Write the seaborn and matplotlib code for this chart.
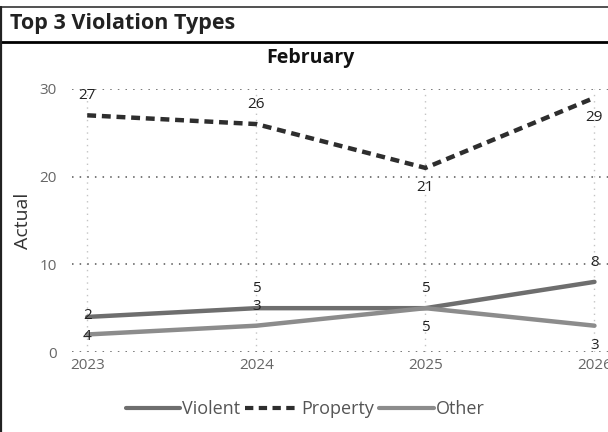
import matplotlib
matplotlib.use("Agg")
import matplotlib.pyplot as plt
import seaborn as sns
import pandas as pd
from matplotlib.lines import Line2D

# Data
years = [2023, 2024, 2025, 2026]
violent = [4, 5, 5, 8]
property_ = [27, 26, 21, 29]
other = [2, 3, 5, 3]

# label placement: +1 above the point, -1 below (as in the reference)
violent_pos = [-1, 1, 1, 1]
property_pos = [1, 1, -1, -1]
other_pos = [1, 1, -1, -1]

series_names = ["Violent", "Property", "Other"]
series_colors = {"Violent": "#6e6e6e", "Property": "#2e2e2e", "Other": "#8c8c8c"}

sns.set_style("white")
plt.rcParams["font.family"] = ["Open Sans", "DejaVu Sans"]

df = pd.DataFrame({
    "Year": years * 3,
    "Actual": violent + property_ + other,
    "Series": ["Violent"] * 4 + ["Property"] * 4 + ["Other"] * 4,
})

fig = plt.figure(figsize=(6.08, 4.32), dpi=100)
W, H = 608, 432
ax = fig.add_axes([72 / W, 1 - 352 / H, (W - 72) / W, (352 - 89) / H])

sns.lineplot(data=df, x="Year", y="Actual", hue="Series", style="Series",
             palette=series_colors,
             dashes={"Violent": "", "Property": (2.0, 1.3), "Other": ""},
             linewidth=3.2, ax=ax, legend=False)

ax.set_xlim(2022.91, 2026.08)
ax.set_ylim(0, 30)
ax.set_xticks(years)
ax.set_xticklabels([str(y) for y in years])
ax.set_yticks([0, 10, 20, 30])
ax.tick_params(axis="x", length=0, pad=4, labelsize=11, labelcolor="#666666")
ax.tick_params(axis="y", length=0, pad=11, labelsize=11, labelcolor="#666666")
ax.set_xlabel("")
ax.set_ylabel("Actual", fontsize=14, color="#333333", labelpad=5)
for s in ax.spines.values():
    s.set_visible(False)

ax.yaxis.grid(True, linestyle=(0, (1, 4)), color="#555555", linewidth=1.1)
ax.xaxis.grid(True, linestyle=(0, (1, 3.5)), color="#c4c4c4", linewidth=1.0)
ax.set_axisbelow(True)

for vals, pos in [(violent, violent_pos), (property_, property_pos), (other, other_pos)]:
    for x, v, p in zip(years, vals, pos):
        ax.annotate(str(v), (x, v), xytext=(0, 14 * p), textcoords="offset points",
                    ha="center", va="center", fontsize=11, color="#222222",
                    annotation_clip=False)

# legend
handles = [
    Line2D([], [], color=series_colors["Violent"], lw=3),
    Line2D([], [], color=series_colors["Property"], lw=3, dashes=(2.0, 1.3)),
    Line2D([], [], color=series_colors["Other"], lw=3),
]
fig.legend(handles, series_names, loc="center", bbox_to_anchor=(305 / W, 1 - 409 / H),
           ncol=3, frameon=False, fontsize=13, handlelength=3.0, handletextpad=0.1,
           columnspacing=0.3, labelcolor="#555555")

# header box and titles
fig.add_artist(Line2D([0, 1], [1 - 6.5 / H, 1 - 6.5 / H], color="#333333", lw=1.2,
                      transform=fig.transFigure))
fig.add_artist(Line2D([0, 1], [1 - 42 / H, 1 - 42 / H], color="black", lw=2,
                      transform=fig.transFigure))
fig.add_artist(Line2D([1 / W, 1 / W], [0, 1 - 6.5 / H], color="#222222", lw=1.6,
                      transform=fig.transFigure))
fig.text(10 / W, 1 - 23 / H, "Top 3 Violation Types", fontsize=15.5, fontweight="bold",
         color="#222222", ha="left", va="center")
fig.text(310 / W, 1 - 58 / H, "February", fontsize=14, fontweight="bold",
         color="#111111", ha="center", va="center")

fig.savefig("out.png", dpi=100)
